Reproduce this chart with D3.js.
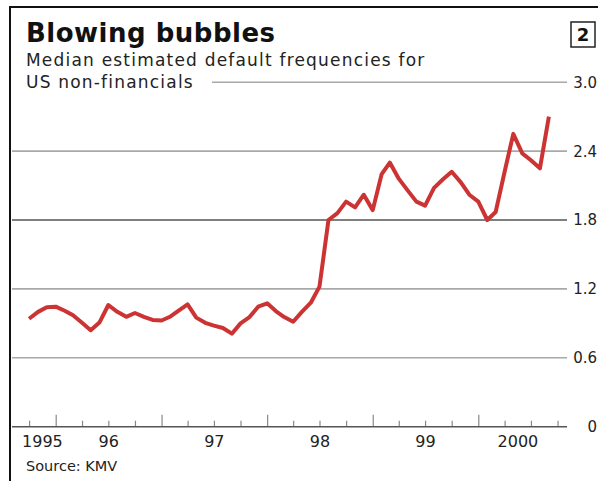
<!DOCTYPE html>
<html>
<head>
<meta charset="utf-8">
<script src="https://cdn.jsdelivr.net/npm/d3@7"></script>
<style>
  body { margin: 0; background: #fff; }
  text { font-family: "DejaVu Sans", "Open Sans", sans-serif; }
</style>
</head>
<body>
<div id="chart"></div>
<script>
// monthly median EDF, Oct 1995 - Sep 2000
const startMonth = "1995-10";
const values = [
  0.94, 1.00, 1.04,
  1.045, 1.01, 0.97, 0.905, 0.84, 0.91, 1.06, 1.00, 0.957, 0.99, 0.957, 0.93,
  0.925, 0.96, 1.01, 1.065, 0.95, 0.905, 0.88, 0.86, 0.81, 0.90, 0.955, 1.045,
  1.074, 1.005, 0.955, 0.914, 1.00, 1.08, 1.22, 1.80, 1.86, 1.96, 1.91, 2.02,
  1.886, 2.20, 2.30, 2.16, 2.06, 1.96, 1.925, 2.08, 2.155, 2.22, 2.13, 2.02,
  1.96, 1.80, 1.87, 2.22, 2.55, 2.38, 2.32, 2.25, 2.70
];
const yTicks = [0, 0.6, 1.2, 1.8, 2.4, 3.0];
const yTickLabels = ["0", "0.6", "1.2", "1.8", "2.4", "3.0"];
const years = [1995, 1996, 1997, 1998, 1999, 2000];
const yearLabels = ["1995", "96", "97", "98", "99", "2000"];

const width = 598;
const height = 481;

const parseMonth = d3.timeParse("%Y-%m");
const t0 = parseMonth(startMonth);
const data = values.map((v, i) => ({ date: d3.timeMonth.offset(t0, i), value: v }));
const dataEnd = d3.timeMonth.offset(data[data.length - 1].date, 1);

const svg = d3.select("#chart")
  .append("svg")
  .attr("width", width)
  .attr("height", height);

// frame
svg.append("line").attr("x1", 10).attr("x2", width).attr("y1", 7).attr("y2", 7)
  .attr("stroke", "#111").attr("stroke-width", 2);
svg.append("line").attr("x1", 10).attr("x2", 10).attr("y1", 6).attr("y2", height)
  .attr("stroke", "#111").attr("stroke-width", 2);

// scales
const x = d3.scaleTime()
  .domain([new Date(1996, 0, 1), new Date(2000, 0, 1)])
  .range([55.7, 478.3]);
const y = d3.scaleLinear()
  .domain([0, 3])
  .range([426.7, 82.2]);

const plotLeft = 12, plotRight = 567;

// titles
svg.append("text").attr("x", 26).attr("y", 42)
  .attr("font-size", 26).attr("font-weight", 700).attr("letter-spacing", 0.5).attr("fill", "#111")
  .text("Blowing bubbles");
svg.append("text").attr("x", 26).attr("y", 66)
  .attr("font-size", 17).attr("letter-spacing", 1.2).attr("fill", "#222")
  .text("Median estimated default frequencies for");
svg.append("text").attr("x", 26).attr("y", 88)
  .attr("font-size", 17).attr("letter-spacing", 1.2).attr("fill", "#222")
  .text("US non-financials");

// chart number box
svg.append("rect").attr("x", 571).attr("y", 22).attr("width", 24).attr("height", 25)
  .attr("fill", "none").attr("stroke", "#222").attr("stroke-width", 1.5);
svg.append("text").attr("x", 583).attr("y", 41).attr("text-anchor", "middle")
  .attr("font-size", 18).attr("font-weight", 700).attr("fill", "#111").text("2");

// gridlines
const grid = svg.append("g");
grid.selectAll("line")
  .data(yTicks.filter(d => d > 0))
  .join("line")
  .attr("x1", d => d === 3 ? 212 : plotLeft)
  .attr("x2", plotRight)
  .attr("y1", d => y(d))
  .attr("y2", d => y(d))
  .attr("stroke", d => d === 1.8 ? "#555" : "#a8a8a8")
  .attr("stroke-width", 1.6);

grid.selectAll("text")
  .data(yTicks)
  .join("text")
  .attr("x", 597)
  .attr("y", d => y(d))
  .attr("dy", "0.36em")
  .attr("text-anchor", "end")
  .attr("font-size", 15)
  .attr("fill", "#222")
  .text((d, i) => yTickLabels[i]);

// x axis, quarterly ticks pointing up (taller at year start)
const xAxis = d3.axisBottom(x)
  .tickValues(d3.timeMonth.every(3).range(new Date(1995, 9, 1), new Date(2000, 10, 1)))
  .tickSize(-6)
  .tickFormat("");
const gx = svg.append("g")
  .attr("transform", `translate(0,${y(0)})`)
  .call(xAxis);
gx.select(".domain").remove();
gx.selectAll(".tick line")
  .attr("stroke", "#888")
  .attr("stroke-width", 1.2)
  .attr("y2", d => d.getMonth() === 0 ? -12 : -6);
svg.append("line")
  .attr("x1", plotLeft).attr("x2", plotRight)
  .attr("y1", y(0)).attr("y2", y(0))
  .attr("stroke", "#555").attr("stroke-width", 1.6);

// year labels centred on each year's span of data
svg.append("g").selectAll("text")
  .data(years)
  .join("text")
  .attr("x", d => {
    const a = d3.max([new Date(d, 0, 1), data[0].date]);
    const b = d3.min([new Date(d + 1, 0, 1), dataEnd]);
    return (x(a) + x(b)) / 2;
  })
  .attr("y", 447)
  .attr("text-anchor", "middle")
  .attr("font-size", 16)
  .attr("fill", "#222")
  .text((d, i) => yearLabels[i]);

// source
svg.append("text").attr("x", 26).attr("y", 471)
  .attr("font-size", 14.5).attr("fill", "#222")
  .text("Source: KMV");

// line
const line = d3.line()
  .x(d => x(d.date))
  .y(d => y(d.value));
svg.append("path")
  .datum(data)
  .attr("fill", "none")
  .attr("stroke", "#cc3333")
  .attr("stroke-width", 4)
  .attr("stroke-linejoin", "round")
  .attr("d", line);
</script>
</body>
</html>
